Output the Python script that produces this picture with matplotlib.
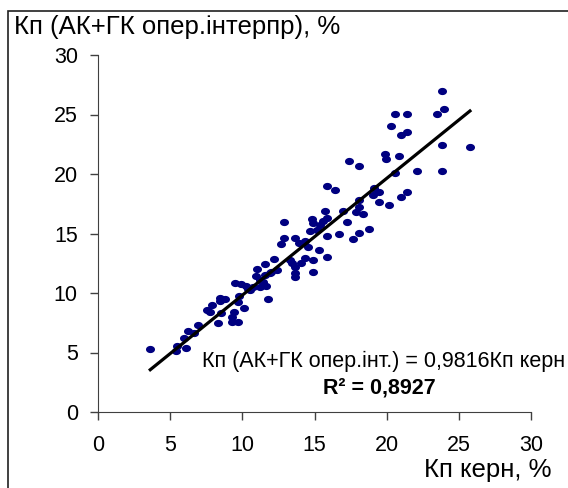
import numpy as np
import matplotlib
matplotlib.use('Agg')
import matplotlib.pyplot as plt
from matplotlib.patches import Rectangle
from matplotlib.path import Path

plt.rcParams['font.family'] = ['Liberation Sans', 'DejaVu Sans']

# Кп керн, %
kp_kern = [3.62, 5.49, 5.41, 6.12, 5.94, 6.24, 6.64, 6.92, 7.58, 7.75,
           7.90, 8.28, 8.43, 8.43, 8.83, 8.51, 9.26, 9.26, 9.44, 9.67,
           9.51, 9.92, 9.76, 9.69, 10.09, 10.27, 10.52, 10.77, 11.05, 10.95,
           11.23, 11.60, 11.55, 11.65, 11.45, 11.75, 11.90, 12.18, 12.43, 12.71,
           12.86, 12.86, 13.29, 13.44, 13.64, 13.64, 13.64, 13.67, 13.94, 14.04,
           14.35, 14.35, 14.52, 14.70, 14.85, 14.90, 14.90, 14.90, 15.15, 15.35,
           15.30, 15.60, 15.73, 15.88, 15.88, 15.88, 15.88, 16.44, 16.71, 16.96,
           17.24, 17.39, 17.64, 17.90, 18.05, 18.10, 18.07, 18.07, 18.35, 18.78,
           19.03, 19.15, 19.46, 19.46, 19.88, 19.98, 20.16, 20.29, 20.56, 20.56,
           20.84, 20.97, 20.97, 21.39, 21.39, 21.39, 22.07, 23.46, 23.86, 23.99,
           23.86, 23.86, 25.77, 11.23, 10.40, 12.00]
# Кп (АК+ГК опер.інтерпр), %
kp_akgk = [5.29, 5.57, 5.15, 5.41, 6.25, 6.83, 6.61, 7.28, 8.57, 8.43,
           9.02, 7.45, 9.61, 9.33, 9.47, 8.29, 7.56, 8.01, 8.43, 7.56,
           10.87, 10.76, 9.78, 9.27, 8.71, 10.59, 10.25, 10.48, 12.04, 11.46,
           11.09, 12.46, 11.54, 10.59, 10.95, 9.47, 11.65, 12.89, 11.93, 14.09,
           14.65, 15.94, 12.77, 12.55, 12.21, 11.71, 11.32, 14.65, 14.23, 12.49,
           12.91, 14.40, 13.89, 15.21, 16.19, 15.91, 12.77, 11.74, 15.29, 15.69,
           13.61, 16.08, 16.92, 16.33, 14.79, 13.05, 18.96, 18.68, 14.93, 16.92,
           15.94, 21.12, 14.51, 16.81, 17.82, 17.25, 15.07, 20.70, 16.67, 15.35,
           18.24, 18.80, 18.52, 17.68, 21.71, 21.26, 17.37, 24.01, 25.01, 20.11,
           21.54, 23.28, 18.10, 23.56, 25.01, 18.52, 20.25, 25.01, 27.00, 25.43,
           22.41, 20.25, 22.27, 10.48, 10.30, 11.80]

slope = 0.9816
r2 = 0.8927

# трохи сплюснутий еліпс як маркер
t = np.linspace(0, 2 * np.pi, 40)
ellipse = Path(np.column_stack([np.cos(t), 0.8 * np.sin(t)]), closed=True)

fig = plt.figure(figsize=(5.68, 4.88), dpi=100)
ax = fig.add_axes([98 / 568, 1 - 412 / 488, 433 / 568, 357 / 488])

# рамка навколо рисунка
fig.patches.append(Rectangle((8 / 568, -0.05), 1.1, 1.05 - 11 / 488,
                             transform=fig.transFigure, fill=False,
                             edgecolor='#202020', linewidth=1.2))

ax.plot(kp_kern, kp_akgk, linestyle='none', marker=ellipse, markersize=6.5,
        color='#000080', markeredgewidth=0, zorder=2)

xl = np.array([min(kp_kern), max(kp_kern)])
ax.plot(xl, slope * xl, color='black', linewidth=2.3, zorder=3)

ax.set_xlim(0, 30)
ax.set_ylim(0, 30)
ax.set_xticks(range(0, 31, 5))
ax.set_yticks(range(0, 31, 5))
ax.tick_params(direction='out', length=5.5, width=1, color='#404040',
               labelsize=15.5)
ax.tick_params(axis='x', pad=11)
ax.tick_params(axis='y', pad=9)
for s in ['top', 'right']:
    ax.spines[s].set_visible(False)
for s in ['left', 'bottom']:
    ax.spines[s].set_color('#404040')

fig.text(14 / 568, 1 - 27 / 488, 'Кп (АК+ГК опер.інтерпр), %', fontsize=18.5,
         va='center', ha='left')
fig.text(552 / 568, 1 - 470 / 488, 'Кп керн, %', fontsize=18.5,
         va='center', ha='right')

fig.text(565 / 568, 1 - 361 / 488, 'Кп (АК+ГК опер.інт.) = 0,9816Кп керн',
         fontsize=15.5, va='center', ha='right')
fig.text(379 / 568, 1 - 388 / 488, 'R² = 0,8927', fontsize=15.5,
         fontweight='bold', va='center', ha='center')

fig.savefig('out.png', dpi=100)
